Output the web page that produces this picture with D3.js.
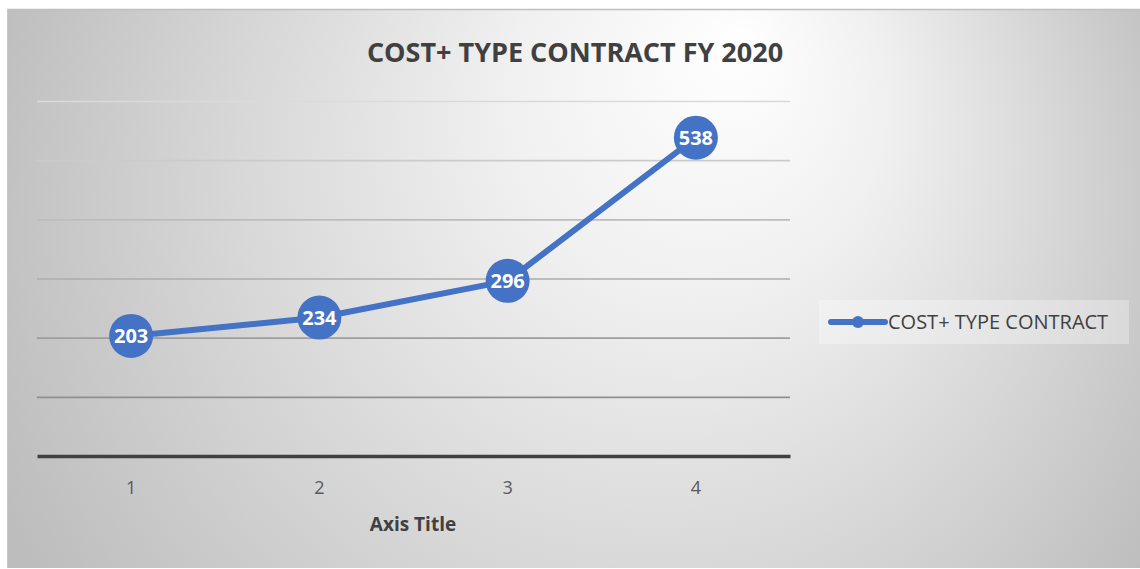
<!DOCTYPE html>
<html>
<head>
<meta charset="utf-8">
<script src="https://cdn.jsdelivr.net/npm/d3@7"></script>
<style>
  html, body { margin: 0; padding: 0; background: #ffffff; }
  svg { display: block; }
  text { font-family: "Open Sans", "Noto Sans", sans-serif; }
</style>
</head>
<body>
<svg id="chart" width="1140" height="569"></svg>
<script>
// Series data
const categories = ["1", "2", "3", "4"];
const values = [203, 234, 296, 538];
const seriesName = "COST+ TYPE CONTRACT";
const chartTitle = "COST+ TYPE CONTRACT FY 2020";
const xAxisTitle = "Axis Title";
const yTicks = [0, 100, 200, 300, 400, 500, 600];

const svg = d3.select("#chart");
const frame = { x: 7, y: 9, w: 1133, h: 559 };
const plot = { left: 37, right: 790, top: 101, bottom: 456 };
const blue = "#4472C4";

// Background gradient of the chart area: bright spot near the top
const defs = svg.append("defs");
const rg = defs.append("radialGradient")
  .attr("id", "bg")
  .attr("gradientUnits", "userSpaceOnUse")
  .attr("cx", 590).attr("cy", 250).attr("r", 640)
  .attr("fx", 740).attr("fy", 40);
rg.append("stop").attr("offset", "0").attr("stop-color", "#ffffff");
rg.append("stop").attr("offset", "0.3").attr("stop-color", "#f0f0f0");
rg.append("stop").attr("offset", "1").attr("stop-color", "#bdbdbd");

svg.append("rect")
  .attr("x", frame.x).attr("y", frame.y)
  .attr("width", frame.w).attr("height", frame.h)
  .attr("fill", "url(#bg)");
svg.append("line")
  .attr("x1", frame.x).attr("x2", frame.x + frame.w)
  .attr("y1", frame.y + 0.5).attr("y2", frame.y + 0.5)
  .attr("stroke", "#bfbfbf").attr("stroke-width", 1.5);
svg.append("line")
  .attr("x1", frame.x + 0.5).attr("x2", frame.x + 0.5)
  .attr("y1", frame.y).attr("y2", frame.y + frame.h)
  .attr("stroke", "#c8c8c8").attr("stroke-width", 1);

// Scales
const x = d3.scaleBand().domain(categories).range([plot.left, plot.right]).padding(0);
const y = d3.scaleLinear().domain([0, 600]).range([plot.bottom, plot.top]);
const cx = d => x(d) + x.bandwidth() / 2;

// Gridlines (darker toward the baseline)
const gridColor = d3.scaleLinear().domain([600, 100]).range(["#dadada", "#8f8f8f"]);
const yAxis = d3.axisLeft(y).tickValues(yTicks.filter(v => v > 0))
  .tickSize(-(plot.right - plot.left)).tickFormat("");
const gy = svg.append("g")
  .attr("transform", `translate(${plot.left},0)`)
  .call(yAxis);
gy.select(".domain").remove();
gy.selectAll(".tick line")
  .attr("stroke", d => gridColor(d))
  .attr("stroke-width", 1.6);

// Category axis
const xAxis = d3.axisBottom(x).tickSize(0).tickPadding(25);
const gx = svg.append("g")
  .attr("transform", `translate(0,${plot.bottom})`)
  .call(xAxis);
gx.select(".domain")
  .attr("stroke", "#404040").attr("stroke-width", 3.5);
gx.selectAll(".tick text")
  .attr("fill", "#595959")
  .style("font-size", "18px")
  .style("font-family", "\"Open Sans\", sans-serif");

// Axis title
svg.append("text")
  .attr("x", 413)
  .attr("y", 531)
  .attr("text-anchor", "middle")
  .attr("fill", "#404040")
  .style("font-size", "19px")
  .style("font-weight", "700")
  .text(xAxisTitle);

// Chart title
svg.append("text")
  .attr("x", 575)
  .attr("y", 62)
  .attr("text-anchor", "middle")
  .attr("fill", "#404040")
  .style("font-size", "27px")
  .style("font-weight", "700")
  .text(chartTitle);

// Series line
const data = categories.map((c, i) => ({ c, v: values[i] }));
const line = d3.line().x(d => cx(d.c)).y(d => y(d.v));
svg.append("path")
  .datum(data)
  .attr("d", line)
  .attr("fill", "none")
  .attr("stroke", blue)
  .attr("stroke-width", 6)
  .attr("stroke-linejoin", "round");

// Markers with value labels
const pts = svg.append("g").selectAll("g").data(data).join("g")
  .attr("transform", d => `translate(${cx(d.c)},${y(d.v)})`);
pts.append("circle").attr("r", 22).attr("fill", blue);
pts.append("text")
  .attr("text-anchor", "middle")
  .attr("dy", "0.36em")
  .attr("fill", "#ffffff")
  .style("font-size", "20px")
  .style("font-weight", "700")
  .text(d => d.v);

// Legend
const lg = svg.append("g").attr("transform", "translate(819,300)");
lg.append("rect")
  .attr("width", 310).attr("height", 44)
  .attr("fill", "#ffffff").attr("fill-opacity", 0.3);
lg.append("line")
  .attr("x1", 12).attr("x2", 66).attr("y1", 22).attr("y2", 22)
  .attr("stroke", blue).attr("stroke-width", 6).attr("stroke-linecap", "round");
lg.append("circle").attr("cx", 39).attr("cy", 22).attr("r", 6).attr("fill", blue);
lg.append("text")
  .attr("x", 69).attr("y", 22).attr("dy", "0.36em")
  .attr("fill", "#404040")
  .style("font-size", "20px")
  .text(seriesName);
</script>
</body>
</html>
